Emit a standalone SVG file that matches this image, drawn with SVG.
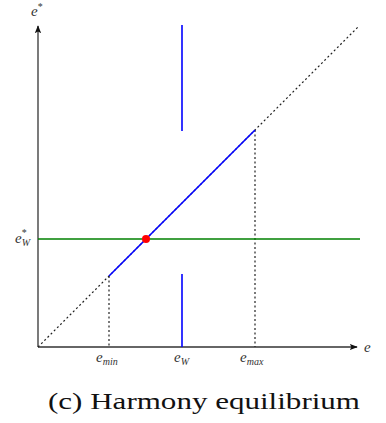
<svg xmlns="http://www.w3.org/2000/svg" width="386" height="423" viewBox="0 0 386 423">
<style>
.lbl{font-family:"Liberation Serif","Times New Roman",serif;font-style:italic;font-size:15px;fill:#333}
.sub{font-size:10px}
.cap{font-family:"Liberation Serif","Times New Roman",serif;font-size:24px;fill:#111}
.ax{stroke:#333;stroke-width:1.3;fill:none}
.dot{stroke:#222;stroke-width:1.2;stroke-dasharray:2,2.5;fill:none}
.blue{stroke:#0000ff;stroke-width:1.6;fill:none}
</style>
<defs>
<marker id="arr" viewBox="0 0 10 10" refX="9" refY="5" markerWidth="8" markerHeight="8" markerUnits="userSpaceOnUse" orient="auto">
<path d="M0,1 L10,5 L0,9 L2,5 Z" fill="#111"/>
</marker>
</defs>
<rect width="386" height="423" fill="#fff"/>
<g id="connectors">
<line class="ax" x1="38" y1="347" x2="38" y2="26" marker-end="url(#arr)"/>
<line class="ax" x1="38" y1="347" x2="357" y2="347" marker-end="url(#arr)"/>
<line class="dot" x1="38" y1="347" x2="359" y2="26"/>
<line class="dot" x1="109" y1="276" x2="109" y2="347"/>
<line class="dot" x1="255" y1="130" x2="255" y2="347"/>
<line x1="38" y1="239" x2="360" y2="239" stroke="#008000" stroke-width="1.6"/>
<line class="blue" x1="109" y1="276" x2="255" y2="130"/>
<line class="blue" x1="182" y1="25" x2="182" y2="131"/>
<line class="blue" x1="182" y1="274" x2="182" y2="347"/>
</g>
<g id="eq"><circle cx="146" cy="239" r="4" fill="#ff0000"/></g>
<g id="labels">
<text class="lbl" x="31" y="16">e<tspan class="sub" dy="-6" font-style="normal">*</tspan></text>
<text class="lbl" x="15" y="243">e<tspan class="sub" dy="-7" font-style="normal">*</tspan><tspan class="sub" dx="-5" dy="10">W</tspan></text>
<text class="lbl" x="96" y="362">e<tspan class="sub" dy="3">min</tspan></text>
<text class="lbl" x="174" y="362">e<tspan class="sub" dy="3">W</tspan></text>
<text class="lbl" x="240" y="362">e<tspan class="sub" dy="3">max</tspan></text>
<text class="lbl" x="364" y="352">e</text>
</g>
<g id="caption"><text class="cap" x="204" y="409" text-anchor="middle" textLength="312" lengthAdjust="spacingAndGlyphs">(c) Harmony equilibrium</text></g>
</svg>
